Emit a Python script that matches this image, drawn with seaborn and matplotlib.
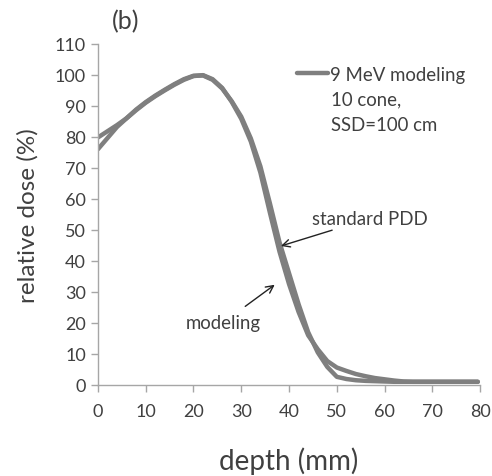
import pandas as pd
import matplotlib.pyplot as plt
import seaborn as sns

depth = [0, 2, 4, 6, 8, 10, 12, 14, 16, 18, 20, 22, 24, 26, 28, 30, 32, 34, 36, 38,
         40, 42, 44, 46, 48, 50, 52, 54, 56, 58, 60, 62, 64, 66, 68, 70, 72, 74, 76, 78, 79.5]

standard_pdd = [76.0, 79.6, 83.2, 86.0, 88.8, 91.2, 93.3, 95.2, 97.0, 98.6, 99.7, 99.8, 98.4,
                95.6, 91.5, 86.5, 79.5, 70.5, 58.5, 46.0, 36.0, 26.0, 17.0, 10.5, 5.8, 2.6,
                1.9, 1.5, 1.3, 1.2, 1.1, 1.0, 1.0, 1.0, 1.0, 1.0, 1.0, 1.0, 1.0, 1.0, 1.0]

modeling = [79.8, 81.8, 83.8, 86.0, 88.6, 91.0, 93.1, 95.0, 96.8, 98.4, 99.6, 99.9, 98.6,
            95.8, 91.3, 85.8, 78.5, 68.5, 55.5, 43.0, 32.5, 23.5, 16.0, 11.5, 7.7, 5.6,
            4.5, 3.5, 2.8, 2.2, 1.8, 1.4, 1.1, 1.0, 1.0, 1.0, 1.0, 1.0, 1.0, 1.0, 1.0]

df = pd.DataFrame({
    "depth": depth * 2,
    "dose": standard_pdd + modeling,
    "curve": ["standard PDD"] * len(depth) + ["modeling"] * len(depth),
})

sns.set_style("ticks")
plt.rcParams["font.family"] = ["Lato", "DejaVu Sans"]
text_color = "#404040"
axis_color = "#a6a6a6"
line_color = "#7f7f7f"

fig = plt.figure(figsize=(4.92, 4.77), dpi=100)
ax = fig.add_axes([0.199, 0.191, 0.777, 0.715])

sns.lineplot(data=df, x="depth", y="dose", hue="curve",
             palette={"standard PDD": line_color, "modeling": line_color},
             linewidth=3.2, legend=False, ax=ax)

ax.set_xlim(0, 80)
ax.set_ylim(0, 110)
ax.set_xticks(range(0, 81, 10))
ax.set_yticks(range(0, 111, 10))
ax.tick_params(axis="both", colors=axis_color, labelcolor=text_color,
               labelsize=13, length=5, width=1)
ax.tick_params(axis="x", pad=8)
for side in ["top", "right"]:
    ax.spines[side].set_visible(False)
for side in ["left", "bottom"]:
    ax.spines[side].set_color(axis_color)
    ax.spines[side].set_linewidth(1)

ax.set_xlabel("depth (mm)", fontsize=20, color=text_color, labelpad=20)
ax.set_ylabel("relative dose (%)", fontsize=17.5, color=text_color, labelpad=12)

fig.text(0.255, 0.955, "(b)", fontsize=18, color=text_color, ha="center", va="center")

# legend entry plus the two extra caption lines
ax.plot([], [], color=line_color, linewidth=3.2, label="9 MeV modeling")
ax.legend(loc="upper left", bbox_to_anchor=(0.52, 0.935), frameon=False,
          fontsize=13.4, handlelength=1.7, handletextpad=0.1, labelcolor=text_color,
          borderpad=0, borderaxespad=0)
ax.text(0.61, 0.838, "10 cone,", transform=ax.transAxes, fontsize=13.4,
        color=text_color, va="center")
ax.text(0.61, 0.763, "SSD=100 cm", transform=ax.transAxes, fontsize=13.4,
        color=text_color, va="center")

ax.annotate("standard PDD", xy=(38.3, 44.8), xytext=(57.0, 53.7),
            fontsize=13.4, color=text_color, ha="center", va="center",
            arrowprops=dict(arrowstyle="->", color="#222222", lw=1,
                            shrinkA=0, shrinkB=0))
ax.annotate("modeling", xy=(37.0, 32.3), xytext=(26.3, 20.2),
            fontsize=13.4, color=text_color, ha="center", va="center",
            arrowprops=dict(arrowstyle="->", color="#222222", lw=1,
                            shrinkA=5, shrinkB=0))

fig.savefig("out.png", dpi=100)
